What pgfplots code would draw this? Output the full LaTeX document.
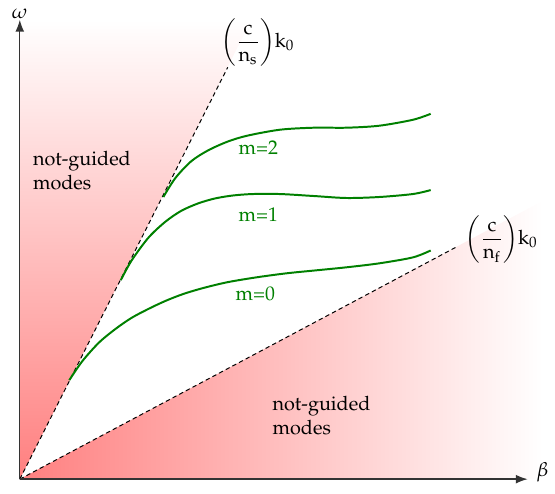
\documentclass[border=0pt]{standalone}
\usepackage[T1]{fontenc}
\usepackage{mathpazo}
\usepackage{pgfplots}
\pgfplotsset{compat=1.18}
\usetikzlibrary{arrows.meta}
\definecolor{modegreen}{RGB}{0,128,0}
\begin{document}
\begin{tikzpicture}
  \begin{axis}[
      scale only axis,
      width=256.5pt, height=232pt,
      xmin=0, xmax=513, ymin=0, ymax=464,
      axis lines=middle,
      axis line style={black!80, line width=0.7pt, -{Latex[length=6pt,width=4.5pt]}},
      ticks=none,
      clip=false,
      axis on top,
      xlabel={$\beta$}, ylabel={$\omega$},
      xlabel style={at={(axis cs:528,7)}, anchor=center},
      ylabel style={at={(axis cs:0,470)}, anchor=center},
    ]
    % invisible frame, keeps the white margins of the picture
    \path (axis cs:-20,-14) rectangle (axis cs:535,484);

    % not-guided regions
    \addplot[draw=none, top color=white, bottom color=red!50]
      coordinates {(0,0) (0,464) (234,464)} -- cycle;
    \addplot[draw=none, left color=red!50, right color=white]
      coordinates {(0,0) (528,281) (528,0)} -- cycle;

    % light lines
    \addplot[black, line width=0.5pt, dash pattern=on 2.2pt off 1.6pt]
      coordinates {(0,0) (210,416)};
    \addplot[black, line width=0.5pt, dash pattern=on 2.2pt off 1.6pt]
      coordinates {(0,0) (440,234)};

    % guided modes
    \addplot[modegreen, line width=1pt, smooth, tension=0.5] coordinates {
      (50,100) (63,119) (80,138) (97,152) (113,163) (130,172) (147,180)
      (165,187) (185,193) (210,199) (240,204) (270,208) (300,211)
      (330,214) (363,218) (397,224) (415,231)
    };
    \addplot[modegreen, line width=1pt, smooth, tension=0.5] coordinates {
      (102,201) (113,221) (130,244) (147,260) (163,271) (180,278.5)
      (197,283.5) (215,286.5) (235,288) (263,288) (297,286) (330,284)
      (363,285) (397,288) (415,292)
    };
    \addplot[modegreen, line width=1pt, smooth, tension=0.5] coordinates {
      (145,285) (157,304) (173,321) (190,332) (210,341) (230,347)
      (263,353) (297,355) (330,355) (363,357) (397,363) (415,369)
    };

    \node[modegreen] at (axis cs:241,335) {m=2};
    \node[modegreen] at (axis cs:241,267) {m=1};
    \node[modegreen] at (axis cs:238,187) {m=0};

    \node[anchor=west, inner sep=0pt] at (axis cs:203,441)
      {$\displaystyle{\left(\frac{\mathrm{c}}{\mathrm{n}_\mathrm{s}}\right)}\mathrm{k}_0$};
    \node[anchor=west, inner sep=0pt] at (axis cs:450,242)
      {$\displaystyle{\left(\frac{\mathrm{c}}{\mathrm{n}_\mathrm{f}}\right)}\mathrm{k}_0$};

    \node[anchor=west, align=left, inner sep=0pt] at (axis cs:13,312)
      {not-guided\\modes};
    \node[anchor=west, align=left, inner sep=0pt] at (axis cs:255,64)
      {not-guided\\modes};
  \end{axis}
\end{tikzpicture}
\end{document}
